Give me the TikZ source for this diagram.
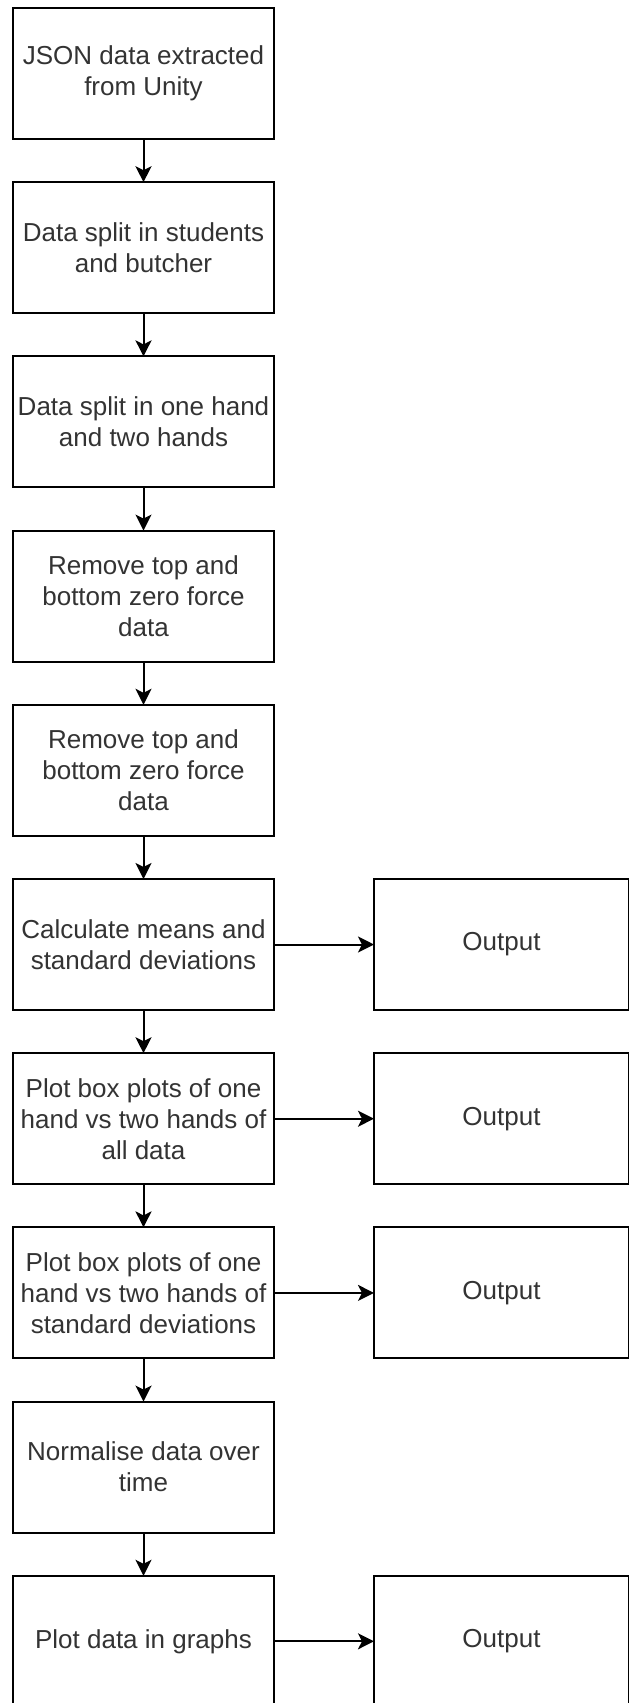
\documentclass[tikz,border=0pt]{standalone}
\usepackage{fontspec}
\setmainfont{Liberation Sans}
\usepackage{tikz}
\usetikzlibrary{arrows.meta, positioning}

\begin{document}
\begin{tikzpicture}[x=1pt, y=-1pt, >={Stealth[length=16pt, width=16pt, inset=4pt]},
    node distance=43.2pt and 100pt,
    box/.style={draw, line width=2pt, minimum width=261pt, minimum height=131pt,
        outer sep=0pt, inner sep=2pt, align=center, text=black!80,
        font=\fontsize{26}{31}\selectfont},
    outbox/.style={box, minimum width=255pt},
    link/.style={->, line width=2pt}]
    % Khung anh
    \clip (0,0) rectangle (629,1703);

    % Cac buoc chinh
    \node[box] (json) at (143.5,73.5) {JSON data extracted\\from Unity};
    \node[box, below=of json] (students) {Data split in students\\and butcher};
    \node[box, below=of students] (hands) {Data split in one hand\\and two hands};
    \node[box, below=of hands] (zeroa) {Remove top and\\bottom zero force\\data};
    \node[box, below=of zeroa] (zerob) {Remove top and\\bottom zero force\\data};
    \node[box, below=of zerob] (means) {Calculate means and\\standard deviations};
    \node[box, below=of means] (boxall) {Plot box plots of one\\hand vs two hands of\\all data};
    \node[box, below=of boxall] (boxstd) {Plot box plots of one\\hand vs two hands of\\standard deviations};
    \node[box, below=of boxstd] (norm) {Normalise data over\\time};
    \node[box, below=of norm] (graphs) {Plot data in graphs};

    % Ket qua
    \node[outbox, right=of means] (outa) {Output};
    \node[outbox, right=of boxall] (outb) {Output};
    \node[outbox, right=of boxstd] (outc) {Output};
    \node[outbox, right=of graphs] (outd) {Output};

    % Mui ten
    \draw[link] (json) -- (students);
    \draw[link] (students) -- (hands);
    \draw[link] (hands) -- (zeroa);
    \draw[link] (zeroa) -- (zerob);
    \draw[link] (zerob) -- (means);
    \draw[link] (means) -- (boxall);
    \draw[link] (boxall) -- (boxstd);
    \draw[link] (boxstd) -- (norm);
    \draw[link] (norm) -- (graphs);

    \draw[link] (means) -- (outa);
    \draw[link] (boxall) -- (outb);
    \draw[link] (boxstd) -- (outc);
    \draw[link] (graphs) -- (outd);
\end{tikzpicture}
\end{document}
